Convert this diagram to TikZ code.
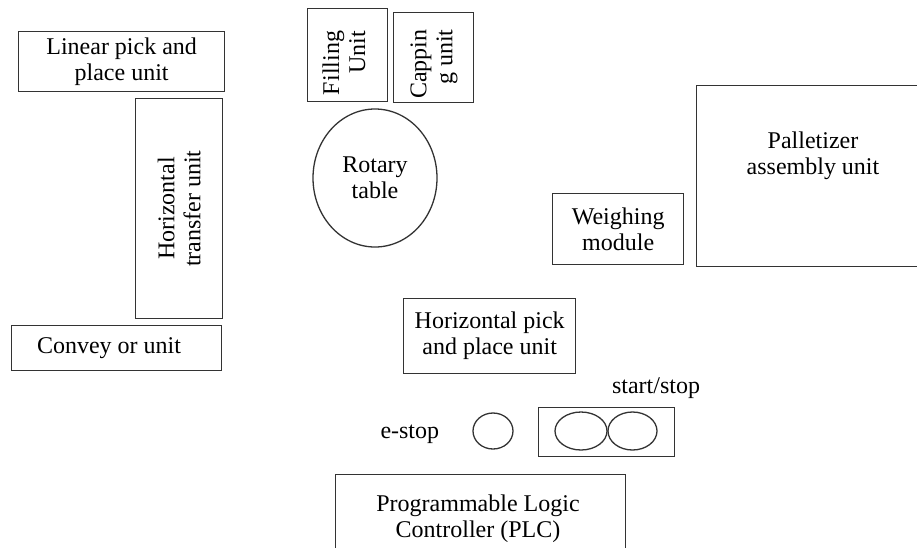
\documentclass[tikz,border=0pt]{standalone}
\usepackage{fontspec}
\setmainfont{Liberation Serif}
\usetikzlibrary{positioning,shapes.geometric}

\begin{document}
\begin{tikzpicture}[x=1pt,y=-1pt,font=\fontsize{24}{26}\selectfont,
   box/.style={draw=black!80,line width=1.3pt,rectangle,anchor=north west,inner sep=0pt,align=center},
   txt/.style={align=center,inner sep=0pt},
   btn/.style={draw=black!80,line width=1.3pt,ellipse,inner sep=0pt}]
  \clip (0,0) rectangle (917,547);
  % left column
  \node[box,minimum width=206pt,minimum height=60pt] (lin) at (18,31) {Linear pick and\\place unit};
  \node[box,minimum width=87pt,minimum height=220pt] (htr) at (135,98) {};
  \node[txt,rotate=90] (htrtxt) at (htr.center) {Horizontal\\transfer unit};
  \node[box,minimum width=210pt,minimum height=45pt] (conv) at (11,325) {};
  \node[txt] (convtxt) at (109,348) {Convey or unit};
  % filling, capping and the table
  \node[box,minimum width=80pt,minimum height=93pt] (fil) at (307,8) {};
  \node[txt,rotate=90,align=right] (filtxt) at (344,63) {Filling\\Unit};
  \node[box,minimum width=80pt,minimum height=90pt] (cap) at (393,12) {};
  \node[txt,rotate=90,align=right] (captxt) at (434,64) {Cappin\\g unit};
  \node[btn,minimum width=124pt,minimum height=138pt,align=center] (rot) at (375,178) {Rotary\\table};
  % right part
  \node[box,minimum width=131pt,minimum height=71pt] (wei) at (552,193) {Weighing\\module};
  \node[box,minimum width=234pt,minimum height=181pt] (pal) at (696,85) {};
  \node[txt] (paltxt) at (813,156) {Palletizer\\assembly unit};
  \node[box,minimum width=172pt,minimum height=75pt] (hpp) at (403,298) {Horizontal pick\\and place unit};
  % buttons
  \node[btn,minimum width=40pt,minimum height=36pt] (es) at (493,431) {};
  \node[txt,left=33pt of es,yshift=-3pt] (estxt) {e-stop};
  \node[box,minimum width=136pt,minimum height=49pt] (sbox) at (538,407) {};
  \node[btn,minimum width=52pt,minimum height=38pt] (b1) at (581,431) {};
  \node[btn,minimum width=49pt,minimum height=38pt] (b2) at (632.5,431) {};
  \node[txt] (sstxt) at (656,388) {start/stop};
  % controller
  \node[box,minimum width=290pt,minimum height=100pt] (plc) at (335,474) {};
  \node[txt] (plctxt) at (478,519) {Programmable Logic\\Controller (PLC)};
\end{tikzpicture}
\end{document}
